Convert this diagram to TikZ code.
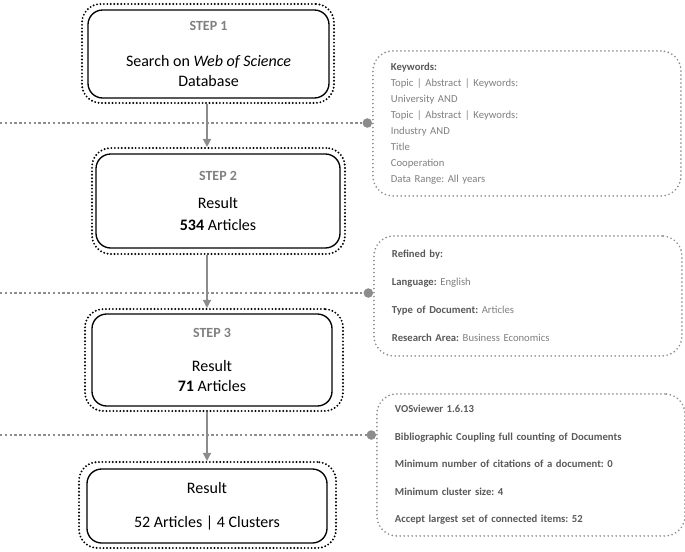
\documentclass[tikz,border=0pt]{standalone}
\usepackage{fontspec}
\setmainfont{Carlito}
\usetikzlibrary{arrows.meta}
\frenchspacing

\definecolor{stepgray}{HTML}{808080}
\definecolor{labelgray}{HTML}{595959}
\definecolor{textgray}{HTML}{7F7F7F}
\definecolor{linegray}{HTML}{8C8C8C}

\newcommand{\steptitle}[1]{{\fontsize{10.5}{12}\selectfont\bfseries\color{stepgray}#1}}
\newcommand{\plabel}[1]{\textbf{\color{labelgray}#1}}

\begin{document}
\begin{tikzpicture}
        [x=0.75pt, y=-0.75pt,
        stepframe/.style={draw, rounded corners=14pt, line width=1.6pt, dash pattern=on 0pt off 2.6pt, line cap=round, inner sep=0pt},
        stepbox/.style={draw, rounded corners=11pt, line width=1pt, align=center, inner sep=0pt, font=\fontsize{12}{14.5}\selectfont},
        panel/.style={draw=linegray, rounded corners=15pt, line width=1.4pt, dash pattern=on 0pt off 3pt, line cap=round, anchor=north west, align=left, text width=204pt, inner xsep=13.5pt, text=textgray, font=\fontsize{8}{12}\selectfont},
        guide/.style={linegray, line width=2pt, dash pattern=on 1.8pt off 1.8pt, -{Circle[length=7pt]}},
        flow/.style={linegray, line width=1.1pt, -{Triangle[width=6pt,length=6pt]}}]
        \useasboundingbox (0,0) rectangle (685,551);

        % steps
        \node[stepframe, minimum width=189pt, minimum height=74.25pt] (step1out) at (208,53.5) {};
        \node[stepbox, minimum width=180.75pt, minimum height=66pt] (step1) at (208.5,54) {\steptitle{STEP 1}\\[12.5pt] Search on \textit{Web of Science}\\ Database};
        \node[stepframe, minimum width=189.75pt, minimum height=79.5pt] (step2out) at (218.5,201) {};
        \node[stepbox, minimum width=183pt, minimum height=70.5pt] (step2) at (218,201) {\steptitle{STEP 2}\\[6.5pt] Result\\[2pt] \textbf{534} Articles};
        \node[stepframe, minimum width=193.5pt, minimum height=76.5pt] (step3out) at (214,360) {};
        \node[stepbox, minimum width=180pt, minimum height=69pt] (step3) at (212,360) {\steptitle{STEP 3}\\[11pt] Result\\[0.5pt] \textbf{71} Articles};
        \node[stepframe, minimum width=192.75pt, minimum height=64.5pt] (step4out) at (207.5,505) {};
        \node[stepbox, minimum width=180pt, minimum height=55.5pt] (step4) at (207,506) {Result\\[11pt] 52 Articles | 4 Clusters};

        % panels
        \node[panel, minimum height=108.75pt] (kw) at (372,50) {\plabel{Keywords:}\\ Topic | Abstract | Keywords:\\ University AND\\ Topic | Abstract | Keywords:\\ Industry AND\\ Title\\ Cooperation\\ Data Range: All years};
        \node[panel, minimum height=90pt] (refine) at (373,235) {\plabel{Refined by:}\\[9pt] \plabel{Language:} English\\[9pt] \plabel{Type of Document:} Articles\\[9pt] \plabel{Research Area:} Business Economics};
        \node[panel, minimum height=106.5pt, text=labelgray, font=\fontsize{8}{12}\selectfont\bfseries] (vos) at (376,393) {VOSviewer 1.6.13\\[8.6pt] Bibliographic Coupling full counting of Documents\\[8.6pt] Minimum number of citations of a document: 0\\[8.6pt] Minimum cluster size: 4\\[8.6pt] Accept largest set of connected items: 52};

        \coordinate (axis) at (207,0);
        \coordinate (g1) at (0,123);
        \coordinate (g2) at (0,293);
        \coordinate (g3) at (0,435);

        \draw[guide] (g1) -- (g1 -| kw.west);
        \draw[guide] (g2) -- (g2 -| refine.west);
        \draw[guide] (g3) -- (g3 -| vos.west);

        \draw[flow] (step1out.south -| axis) -- (step2out.north -| axis);
        \draw[flow] (step2out.south -| axis) -- (step3out.north -| axis);
        \draw[flow] (step3out.south -| axis) -- (step4out.north -| axis);

    \end{tikzpicture}
\end{document}
